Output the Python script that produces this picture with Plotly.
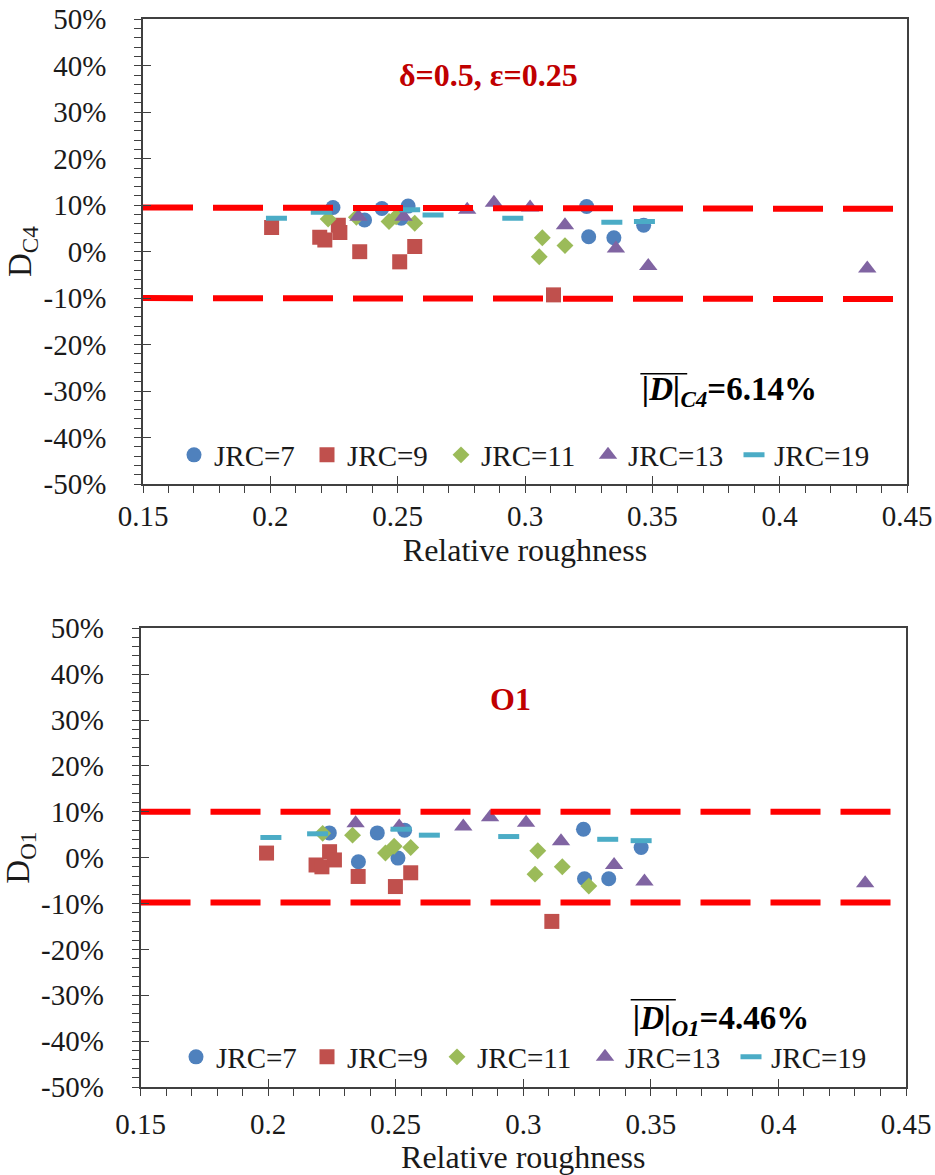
import plotly.graph_objects as go

# ---------------- data: top panel (C4) ----------------
jrc7_x_top = [0.2246, 0.2370, 0.2438, 0.2514, 0.2541, 0.3242, 0.3250, 0.3349, 0.3466]
jrc7_y_top = [9.5, 6.8, 9.3, 7.2, 9.8, 9.7, 3.2, 3.0, 5.7]
jrc9_x_top = [0.2005, 0.2194, 0.2214, 0.2267, 0.2273, 0.2351, 0.2508, 0.2567, 0.3112]
jrc9_y_top = [5.2, 3.1, 2.5, 5.7, 4.1, 0.0, -2.2, 1.1, -9.3]
jrc11_x_top = [0.2227, 0.2338, 0.2466, 0.2494, 0.2567, 0.3056, 0.3068, 0.3157]
jrc11_y_top = [7.0, 7.4, 6.5, 7.5, 6.1, -1.1, 3.0, 1.3]
jrc13_x_top = [0.2346, 0.2523, 0.2773, 0.2878, 0.3020, 0.3157, 0.3357, 0.3484, 0.4344]
jrc13_y_top = [7.5, 7.5, 9.0, 10.5, 9.5, 5.7, 0.7, -3.1, -3.6]
jrc19_x_top = [0.2024, 0.2200, 0.2547, 0.2639, 0.2952, 0.3341, 0.3469]
jrc19_y_top = [7.2, 8.5, 9.0, 7.9, 7.2, 6.3, 6.5]

# ---------------- data: bottom panel (O1) ----------------
jrc7_x_bot = [0.2240, 0.2354, 0.2428, 0.2509, 0.2535, 0.3236, 0.3240, 0.3335, 0.3462]
jrc7_y_bot = [5.4, -0.9, 5.4, -0.1, 6.0, 6.2, -4.6, -4.6, 2.2]
jrc9_x_bot = [0.1994, 0.2188, 0.2211, 0.2241, 0.2260, 0.2353, 0.2499, 0.2559, 0.3112]
jrc9_y_bot = [1.0, -1.6, -2.0, 1.3, -0.5, -4.1, -6.3, -3.3, -13.9]
jrc11_x_bot = [0.2214, 0.2331, 0.2460, 0.2494, 0.2559, 0.3046, 0.3057, 0.3153, 0.3257]
jrc11_y_bot = [5.3, 4.9, 1.0, 2.5, 2.2, -3.6, 1.5, -2.0, -6.2]
jrc13_x_bot = [0.2343, 0.2514, 0.2765, 0.2870, 0.3011, 0.3148, 0.3356, 0.3475, 0.4340]
jrc13_y_bot = [7.5, 6.8, 6.8, 8.8, 7.6, 3.6, -1.6, -5.2, -5.6]
jrc19_x_bot = [0.2011, 0.2194, 0.2521, 0.2632, 0.2943, 0.3331, 0.3462]
jrc19_y_bot = [4.4, 5.2, 6.2, 4.9, 4.6, 4.0, 3.7]

# limit lines (+/-10 % band as drawn)
limit_x = [0.15, 0.45]
upper_top = [9.5, 9.2]
lower_top = [-10.0, -10.2]
upper_bot = [10.0, 10.0]
lower_bot = [-9.8, -9.8]

series_names = ["JRC=7", "JRC=9", "JRC=11", "JRC=13", "JRC=19"]
x_tickvals = [0.15, 0.2, 0.25, 0.3, 0.35, 0.4, 0.45]
x_ticktext = ["0.15", "0.2", "0.25", "0.3", "0.35", "0.4", "0.45"]
y_tickvals = [-50, -40, -30, -20, -10, 0, 10, 20, 30, 40, 50]
y_ticktext = ["-50%", "-40%", "-30%", "-20%", "-10%", "0%", "10%", "20%", "30%", "40%", "50%"]

colors = ["#4F81BD", "#C0504D", "#9BBB59", "#8064A2", "#4BACC6"]
symbols = ["circle", "square", "diamond", "triangle-up", "line-ew"]
sizes = [15, 15, 13, 16, 15]

FONT = "Liberation Serif"
TICKF = 29
TXT = "#1a1a1a"

top_sets = [(jrc7_x_top, jrc7_y_top), (jrc9_x_top, jrc9_y_top), (jrc11_x_top, jrc11_y_top),
            (jrc13_x_top, jrc13_y_top), (jrc19_x_top, jrc19_y_top)]
bot_sets = [(jrc7_x_bot, jrc7_y_bot), (jrc9_x_bot, jrc9_y_bot), (jrc11_x_bot, jrc11_y_bot),
            (jrc13_x_bot, jrc13_y_bot), (jrc19_x_bot, jrc19_y_bot)]

W, H = 935, 1175
# legend entry marker centres (px) as in the reference
legend_px_top = [192, 325, 459, 606, 752]
legend_px_bot = [194, 325, 455, 603, 749]

fig = go.Figure()


def marker_for(i):
    if symbols[i] == "line-ew":
        return dict(symbol="line-ew", size=sizes[i], color=colors[i],
                    line=dict(color=colors[i], width=5))
    return dict(symbol=symbols[i], size=sizes[i], color=colors[i], line=dict(width=0))


def legend_id(k):
    return "legend" if k == 0 else "legend%d" % (k + 1)


for i, (xs, ys) in enumerate(top_sets):
    fig.add_trace(go.Scatter(x=xs, y=ys, mode="markers", name=series_names[i],
                             marker=marker_for(i), xaxis="x", yaxis="y", legend=legend_id(i)))
for i, (xs, ys) in enumerate(bot_sets):
    fig.add_trace(go.Scatter(x=xs, y=ys, mode="markers", name=series_names[i],
                             marker=marker_for(i), xaxis="x2", yaxis="y2", legend=legend_id(i + 5)))

red_line = dict(color="#FF0000", width=6, dash="50px,20px")
for ys in (upper_top, lower_top):
    fig.add_trace(go.Scatter(x=limit_x, y=ys, mode="lines", line=red_line,
                             showlegend=False, hoverinfo="skip", xaxis="x", yaxis="y"))
for ys in (upper_bot, lower_bot):
    fig.add_trace(go.Scatter(x=limit_x, y=ys, mode="lines", line=red_line,
                             showlegend=False, hoverinfo="skip", xaxis="x2", yaxis="y2"))

# empty traces to activate overlay axes (inside half of crossing ticks)
fig.add_trace(go.Scatter(x=[], y=[], xaxis="x3", yaxis="y3", showlegend=False))
fig.add_trace(go.Scatter(x=[], y=[], xaxis="x4", yaxis="y4", showlegend=False))

top_dom_x = [143 / W, 907 / W]
top_dom_y = [1 - 484 / H, 1 - 19.3 / H]
bot_dom_x = [140.5 / W, 906 / W]
bot_dom_y = [1 - 1087 / H, 1 - 628.3 / H]

AXC = "#404040"


def xaxis_main(dom, anchor, lab_off, title_off):
    return dict(domain=dom, anchor=anchor, range=[0.15, 0.45], tickvals=x_tickvals,
                ticktext=x_ticktext, ticks="outside", ticklen=7, tickcolor=AXC,
                showline=True, linecolor=AXC, linewidth=1.5, mirror=True,
                showgrid=False, zeroline=False, automargin=False,
                minor=dict(dtick=0.01, ticks="outside", ticklen=7, tickcolor=AXC, showgrid=False),
                tickfont=dict(family=FONT, size=TICKF, color=TXT),
                ticklabelstandoff=lab_off,
                title=dict(text="Relative roughness", font=dict(family=FONT, size=32, color=TXT),
                           standoff=title_off))


def yaxis_main(dom, anchor, title):
    return dict(domain=dom, anchor=anchor, range=[-50, 50], tickvals=y_tickvals,
                ticktext=y_ticktext, ticks="outside", ticklen=7, tickcolor=AXC,
                showline=True, linecolor=AXC, linewidth=1.5, mirror=True,
                showgrid=False, zeroline=False, automargin=False,
                minor=dict(dtick=2, ticks="outside", ticklen=7, tickcolor=AXC, showgrid=False),
                tickfont=dict(family=FONT, size=TICKF, color=TXT),
                ticklabelstandoff=22,
                title=dict(text=title, font=dict(family=FONT, size=33, color=TXT), standoff=2))


def xaxis_over(over, anchor):
    return dict(overlaying=over, anchor=anchor, range=[0.15, 0.45], tickvals=x_tickvals,
                ticks="inside", ticklen=8, tickcolor=AXC, showticklabels=False, automargin=False,
                showline=False, showgrid=False, zeroline=False, side="bottom")


def yaxis_over(over, anchor):
    return dict(overlaying=over, anchor=anchor, range=[-50, 50], tickvals=y_tickvals,
                ticks="inside", ticklen=8, tickcolor=AXC, showticklabels=False, automargin=False,
                showline=False, showgrid=False, zeroline=False, side="left")


legend_common = dict(orientation="h", xanchor="left", yanchor="middle",
                     font=dict(family=FONT, size=TICKF, color=TXT),
                     bgcolor="rgba(0,0,0,0)", itemclick=False, itemdoubleclick=False,
                     tracegroupgap=0)

layout_legends = {}
for i in range(5):
    layout_legends[legend_id(i)] = dict(x=(legend_px_top[i] - 18) / W, y=1 - 455 / H, **legend_common)
    layout_legends[legend_id(i + 5)] = dict(x=(legend_px_bot[i] - 18) / W, y=1 - 1057 / H, **legend_common)

fig.update_layout(
    width=W, height=H, margin=dict(l=0, r=0, t=0, b=0, autoexpand=False),
    paper_bgcolor="white", plot_bgcolor="white",
    xaxis=xaxis_main(top_dom_x, "y", -2, 1),
    yaxis=yaxis_main(top_dom_y, "x", "D<sub>C4</sub>"),
    xaxis2=xaxis_main(bot_dom_x, "y2", 3, 5),
    yaxis2=yaxis_main(bot_dom_y, "x2", "D<sub>O1</sub>"),
    xaxis3=xaxis_over("x", "y"),
    yaxis3=yaxis_over("y", "x"),
    xaxis4=xaxis_over("x2", "y2"),
    yaxis4=yaxis_over("y2", "x2"),
    showlegend=True,
    **layout_legends,
)

ann_font = dict(family=FONT, size=32, color="#C00000")
fig.add_annotation(x=0.2857, y=38, xref="x", yref="y", text="<b>δ=0.5, ε=0.25</b>",
                   showarrow=False, font=ann_font)
fig.add_annotation(x=0.295, y=34.6, xref="x2", yref="y2", text="<b>O1</b>",
                   showarrow=False, font=ann_font)

mean_font = dict(family=FONT, size=33, color="#000000")
fig.add_annotation(x=0.3453, y=-30.2, xref="x", yref="y", xanchor="left", yanchor="middle",
                   text="<b><i>|D|</i><sub><i>C4</i></sub>=6.14%</b>", showarrow=False, font=mean_font)
fig.add_annotation(x=0.3421, y=-35.4, xref="x2", yref="y2", xanchor="left", yanchor="middle",
                   text="<b><i>|D|</i><sub><i>O1</i></sub>=4.46%</b>", showarrow=False, font=mean_font)
# overlines of the mean symbol
fig.add_shape(type="line", xref="x", yref="y", x0=0.3453, x1=0.3637, y0=-26.3, y1=-26.3,
              line=dict(color="black", width=1.5))
fig.add_shape(type="line", xref="x2", yref="y2", x0=0.3421, x1=0.3598, y0=-31.0, y1=-31.0,
              line=dict(color="black", width=1.5))

fig.write_html("out.html")
